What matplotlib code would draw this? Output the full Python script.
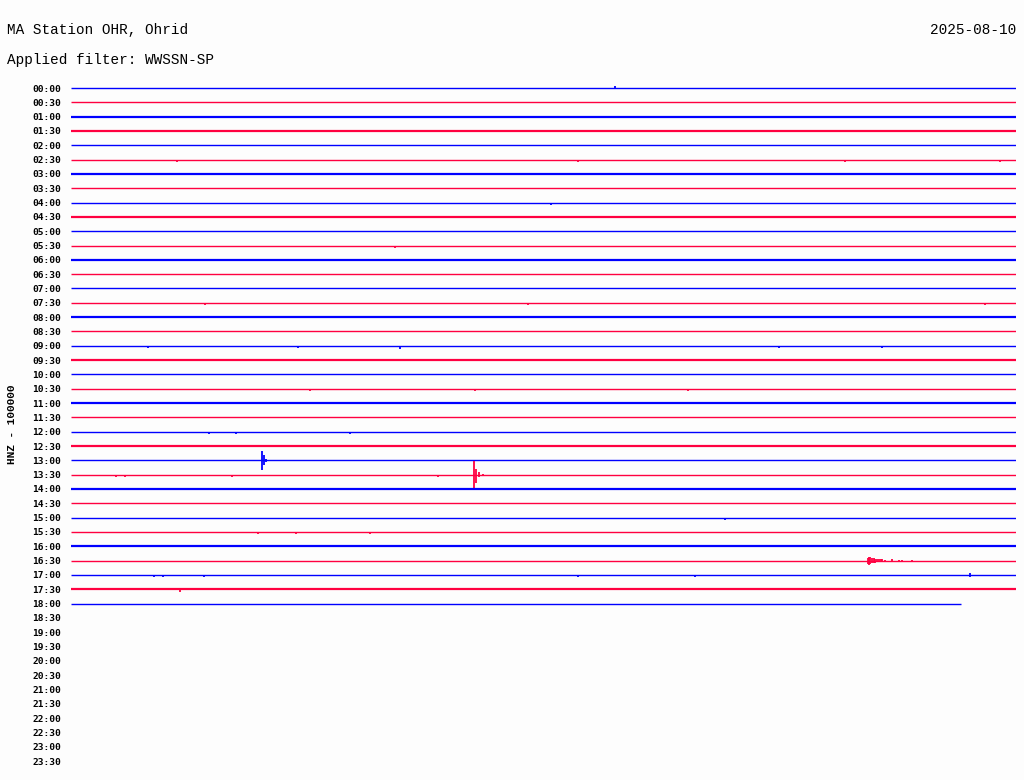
import matplotlib; matplotlib.use('Agg')
import matplotlib.pyplot as plt

# helicorder rows, one per 30 minutes
row_labels = ["%02d:%02d" % (h, m) for h in range(24) for m in (0, 30)]
n_recorded = 37          # rows 00:00 .. 18:00 carry data
last_row_end = 28.25     # minutes recorded in the 18:00 row

# rows with visible background noise
noisy_rows = ["01:00", "01:30", "03:00", "04:30", "06:00", "08:00", "09:30",
              "11:00", "12:30", "14:00", "16:00", "17:30"]

# (row, minute, up, down) in row-spacing units
spikes = [
    ("00:00", 17.27, 0.15, 0.0),
    ("02:30", 3.37, 0.0, 0.17), ("02:30", 16.10, 0.0, 0.17),
    ("02:30", 24.57, 0.0, 0.17), ("02:30", 29.50, 0.0, 0.17),
    ("04:00", 15.24, 0.0, 0.17),
    ("05:30", 10.29, 0.0, 0.17),
    ("07:30", 4.25, 0.0, 0.17), ("07:30", 14.50, 0.0, 0.17), ("07:30", 29.00, 0.0, 0.17),
    ("09:00", 2.44, 0.0, 0.17), ("09:00", 7.20, 0.0, 0.17), ("09:00", 10.44, 0.0, 0.2),
    ("09:00", 22.48, 0.0, 0.17), ("09:00", 25.75, 0.0, 0.17),
    ("10:30", 7.59, 0.0, 0.17), ("10:30", 12.83, 0.0, 0.17), ("10:30", 19.59, 0.0, 0.17),
    ("12:00", 4.38, 0.0, 0.17), ("12:00", 5.24, 0.0, 0.17), ("12:00", 8.86, 0.0, 0.17),
    ("13:00", 6.05, 0.62, 0.70), ("13:00", 6.12, 0.35, 0.30),
    ("13:00", 6.20, 0.12, 0.10), ("13:00", 6.30, 0.05, 0.05),
    ("13:30", 1.43, 0.0, 0.17), ("13:30", 1.71, 0.0, 0.17), ("13:30", 5.11, 0.0, 0.17),
    ("13:30", 11.65, 0.0, 0.17),
    ("13:30", 12.79, 0.98, 1.0), ("13:30", 12.86, 0.40, 0.55),
    ("13:30", 12.95, 0.15, 0.15), ("13:30", 13.08, 0.06, 0.06),
    ("15:00", 20.76, 0.0, 0.17),
    ("15:30", 5.94, 0.0, 0.17), ("15:30", 7.14, 0.0, 0.17), ("15:30", 9.49, 0.0, 0.17),
    ("16:30", 25.30, 0.20, 0.22), ("16:30", 25.34, 0.25, 0.28), ("16:30", 25.38, 0.25, 0.25),
    ("16:30", 25.43, 0.18, 0.20), ("16:30", 25.48, 0.15, 0.15), ("16:30", 25.53, 0.12, 0.14),
    ("16:30", 25.58, 0.12, 0.10), ("16:30", 25.64, 0.10, 0.10), ("16:30", 25.70, 0.10, 0.08),
    ("16:30", 25.76, 0.08, 0.08), ("16:30", 25.83, 0.07, 0.07), ("16:30", 26.05, 0.08, 0.06),
    ("16:30", 26.30, 0.06, 0.08), ("16:30", 26.38, 0.06, 0.06), ("16:30", 26.70, 0.05, 0.05),
    ("17:00", 2.64, 0.0, 0.17), ("17:00", 2.92, 0.0, 0.17), ("17:00", 4.22, 0.0, 0.17),
    ("17:00", 16.10, 0.0, 0.17), ("17:00", 19.81, 0.0, 0.17), ("17:00", 28.54, 0.12, 0.17),
    ("17:30", 3.46, 0.0, 0.2),
]

colors = ['#0000ff', '#ff0040']

fig = plt.figure(figsize=(10.24, 7.80), dpi=100)
fig.patch.set_facecolor('#fdfdfd')

H = 780.0
top_px, bot_px = 88 - 14.32, 88 + 14.32 * 48
ax = fig.add_axes([71 / 1024.0, 1 - bot_px / H, (1016 - 71) / 1024.0, (bot_px - top_px) / H])
ax.set_facecolor('#fdfdfd')
ax.set_xlim(0, 30)
ax.set_ylim(48, -1)

for i in range(n_recorded):
    lab = row_labels[i]
    end = last_row_end if i == n_recorded - 1 else 30
    c = colors[i % 2]
    lw = 1.6 if lab in noisy_rows else 1.0
    ax.plot([0, end], [i, i], color=c, lw=lw, solid_capstyle='butt')
    for (r, t, up, down) in spikes:
        if r == lab:
            ax.plot([t, t], [i - up, i + down], color=c, lw=1.3, solid_capstyle='butt')

ax.set_yticks(range(len(row_labels)))
ax.set_yticklabels(row_labels, fontsize=6.8, family='DejaVu Sans Mono', fontweight='bold')
ax.tick_params(axis='y', length=0, pad=7)
ax.set_xticks([])
for s in ax.spines.values():
    s.set_visible(False)

fig.text(7 / 1024.0, 1 - 30 / H, "MA Station OHR, Ohrid", fontsize=10.4, family='Liberation Mono',
         va='center', ha='left')
fig.text(7 / 1024.0, 1 - 60 / H, "Applied filter: WWSSN-SP", fontsize=10.4, family='Liberation Mono',
         va='center', ha='left')
fig.text(1016 / 1024.0, 1 - 30 / H, "2025-08-10", fontsize=10.4, family='Liberation Mono',
         va='center', ha='right')
fig.text(12 / 1024.0, 1 - 424 / H, "HNZ - 100000", fontsize=8, family='Liberation Mono',
         rotation=90, va='center', ha='center', fontweight='bold')

plt.savefig('out.png', dpi=100, facecolor=fig.get_facecolor())
